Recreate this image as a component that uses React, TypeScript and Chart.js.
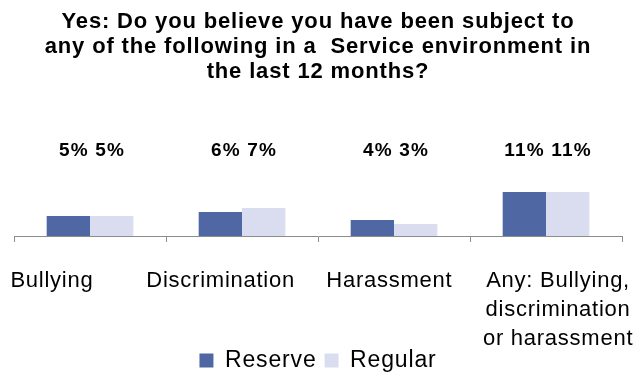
import React, { useEffect, useRef } from "react";
import { Chart, registerables } from "chart.js";

Chart.register(...registerables);

// Survey categories (multi-line names under the axis)
const categories: string[][] = [
  ["Bullying"],
  ["Discrimination"],
  ["Harassment"],
  ["Any: Bullying,", "discrimination", "or harassment"],
];

// Percentage answering "Yes"
const reserve: number[] = [5, 6, 4, 11];
const regular: number[] = [5, 7, 3, 11];

const seriesNames: string[] = ["Reserve", "Regular"];

const titleLines: string[] = [
  "Yes: Do you believe you have been subject to",
  "any of the following in a  Service environment in",
  "the last 12 months?",
];

const FONT = "'Liberation Sans', Arial, Helvetica, sans-serif";
const RESERVE_COLOR = "#4F67A3";
const REGULAR_COLOR = "#DADDF0";
const AXIS_COLOR = "#8C8C8C";

const CANVAS_W = 639;
const CANVAS_H = 374;

// Value axis range (hidden) and the level at which the value labels sit
const Y_MAX = 34;
const LABEL_LEVEL = 21.3;

// Category names are spread slightly wider than the bar groups
const NAME_SPREAD = 1.11;
const NAME_SHIFT = -13;
const NAME_GAP = 45;
const NAME_LINE_HEIGHT = 29;

// Legend box height (font size + padding + Chart.js' fixed 10px) and bottom padding
const LEGEND_HEIGHT = 23 + 8 + 10;
const BOTTOM_PAD = -8;
const AXIS_BASE = 236;

const textSpacing = {
  id: "textSpacing",
  beforeUpdate(chart: any) {
    chart.ctx.letterSpacing = "0.85px";
  },
  beforeDraw(chart: any) {
    chart.ctx.letterSpacing = "0.85px";
  },
};

const valueLabels = {
  id: "valueLabels",
  afterDatasetsDraw(chart: any) {
    const { ctx, scales } = chart;
    const x = scales.x;
    const y = scales.y;
    ctx.save();
    ctx.letterSpacing = "1.2px";
    ctx.font = `bold 19px ${FONT}`;
    ctx.fillStyle = "#000";
    ctx.textAlign = "center";
    ctx.textBaseline = "middle";
    const yPix = y.getPixelForValue(LABEL_LEVEL);
    categories.forEach((_, i) => {
      ctx.fillText(`${reserve[i]}% ${regular[i]}%`, x.getPixelForValue(i) + 2, yPix);
    });
    ctx.restore();
  },
};

const categoryNames = {
  id: "categoryNames",
  afterDraw(chart: any) {
    const { ctx, scales, chartArea } = chart;
    const x = scales.x;
    const mid = (chartArea.left + chartArea.right) / 2;
    ctx.save();
    ctx.letterSpacing = "0.75px";
    ctx.font = `22px ${FONT}`;
    ctx.fillStyle = "#000";
    ctx.textAlign = "center";
    ctx.textBaseline = "middle";
    categories.forEach((lines, i) => {
      const cx = mid + (x.getPixelForValue(i) - mid) * NAME_SPREAD + NAME_SHIFT;
      lines.forEach((line, j) => {
        ctx.fillText(line, cx, x.top + NAME_GAP + j * NAME_LINE_HEIGHT);
      });
    });
    ctx.restore();
  },
};

export default function App() {
  const canvasRef = useRef<HTMLCanvasElement | null>(null);

  useEffect(() => {
    const canvas = canvasRef.current;
    if (!canvas) return;
    const chart = new Chart(canvas, {
      type: "bar",
      data: {
        labels: categories.map((c) => c.join(" ")),
        datasets: [
          {
            label: seriesNames[0],
            data: reserve,
            backgroundColor: RESERVE_COLOR,
            borderWidth: 0,
          },
          {
            label: seriesNames[1],
            data: regular,
            backgroundColor: REGULAR_COLOR,
            borderWidth: 0,
          },
        ],
      },
      options: {
        responsive: false,
        animation: false,
        devicePixelRatio: 1,
        layout: { padding: { left: 14, right: 17, top: 0, bottom: BOTTOM_PAD } },
        datasets: {
          bar: { barPercentage: 1, categoryPercentage: 0.57 },
        },
        scales: {
          x: {
            type: "category",
            position: "bottom",
            offset: true,
            grid: {
              display: true,
              offset: true,
              drawOnChartArea: false,
              drawTicks: true,
              tickLength: 6,
              color: AXIS_COLOR,
            },
            border: { display: true, color: AXIS_COLOR, width: 1 },
            ticks: { display: false },
            afterFit: (s: any) => {
              s.height = CANVAS_H - BOTTOM_PAD - AXIS_BASE - LEGEND_HEIGHT;
            },
          },
          y: {
            display: false,
            min: 0,
            max: Y_MAX,
          },
        },
        plugins: {
          title: {
            display: true,
            text: titleLines,
            color: "#000",
            font: { family: FONT, size: 22, weight: "bold", lineHeight: 25 / 22 },
            padding: { top: 9, bottom: 16 },
          },
          legend: {
            display: true,
            position: "bottom",
            labels: {
              boxWidth: 14,
              boxHeight: 14,
              padding: 8,
              color: "#000",
              font: { family: FONT, size: 23 },
            },
          },
          tooltip: { enabled: false },
        },
      },
      plugins: [textSpacing, valueLabels, categoryNames],
    } as any);
    return () => chart.destroy();
  }, []);

  return (
    <div style={{ position: "absolute", left: 0, top: 0, width: CANVAS_W, height: CANVAS_H, background: "#fff" }}>
      <canvas ref={canvasRef} width={CANVAS_W} height={CANVAS_H} style={{ display: "block" }} />
    </div>
  );
}
